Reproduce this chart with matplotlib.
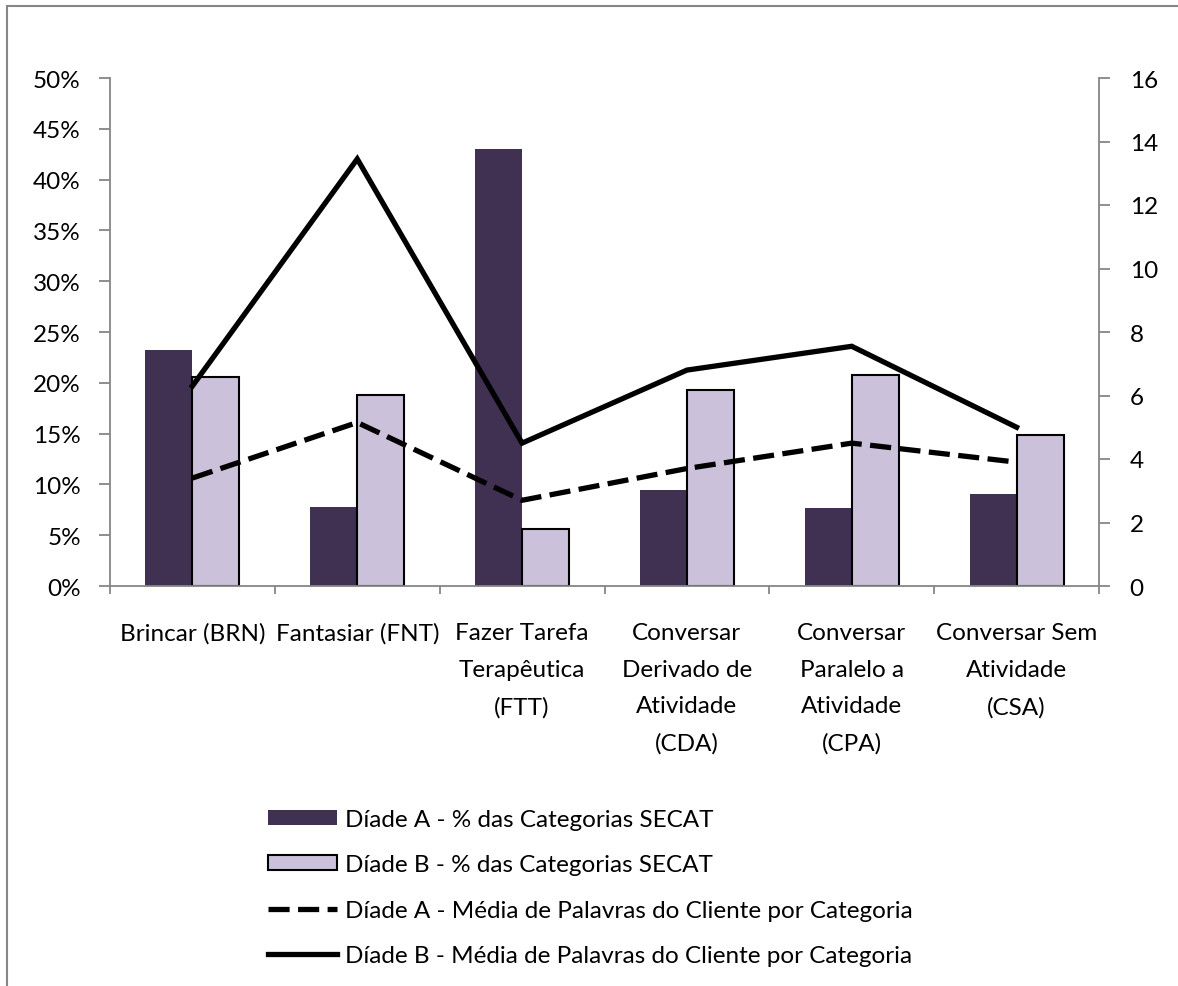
import matplotlib
matplotlib.use("Agg")
import matplotlib.pyplot as plt
from matplotlib.patches import Rectangle
from matplotlib.ticker import FuncFormatter
import numpy as np

plt.rcParams['font.family'] = ['Lato', 'DejaVu Sans']

categorias = ['Brincar (BRN)', 'Fantasiar (FNT)', 'Fazer Tarefa\nTerapêutica\n(FTT)',
              'Conversar\nDerivado de\nAtividade\n(CDA)', 'Conversar\nParalelo a\nAtividade\n(CPA)',
              'Conversar Sem\nAtividade\n(CSA)']
pct_a = [23.2, 7.8, 43.0, 9.4, 7.7, 9.1]
pct_b = [20.6, 18.8, 5.6, 19.3, 20.8, 14.9]
palavras_a = [3.4, 5.15, 2.7, 3.7, 4.5, 3.9]
palavras_b = [6.3, 13.45, 4.5, 6.8, 7.55, 5.0]

rotulos = ['Díade A - % das Categorias SECAT',
           'Díade B - % das Categorias SECAT',
           'Díade A - Média de Palavras do Cliente por Categoria',
           'Díade B - Média de Palavras do Cliente por Categoria']

cinza = '#868686'
fs = 17.5

fig = plt.figure(figsize=(11.78, 9.87), dpi=100)
ax = fig.add_axes([110 / 1178, 1 - 587 / 987, (1099 - 110) / 1178, (587 - 79) / 987])
ax2 = ax.twinx()

x = np.arange(len(categorias))
w = 0.285
b1 = ax.bar(x - w / 2, pct_a, w, color='#403152', edgecolor='none', label=rotulos[0])
b2 = ax.bar(x + w / 2, pct_b, w, color='#CCC1DA', edgecolor='black', linewidth=1.5, label=rotulos[1])

l1, = ax2.plot(x, palavras_a, color='black', lw=3.8, ls=(0, (4, 1.6)), label=rotulos[2])
l2, = ax2.plot(x, palavras_b, color='black', lw=3.8, solid_joinstyle='miter', label=rotulos[3])

ax.set_xlim(-0.5, len(categorias) - 0.5)
ax.set_ylim(0, 50)
ax2.set_ylim(0, 16)
ax.set_yticks(np.arange(0, 51, 5))
ax.yaxis.set_major_formatter(FuncFormatter(lambda v, p: '%d%%' % v))
ax2.set_yticks(np.arange(0, 17, 2))

# ticks do eixo x nas divisas entre categorias, rótulos no centro
ax.set_xticks(np.arange(-0.5, len(categorias), 1.0))
ax.set_xticklabels([])
ax.set_xticks(x, minor=True)
ax.set_xticklabels(categorias, minor=True, fontsize=fs, linespacing=1.92)
ax.tick_params(axis='x', which='minor', length=0, pad=26)
ax.tick_params(axis='x', which='major', length=6, color=cinza, width=1.3, direction='out')
ax.tick_params(axis='y', length=8, color=cinza, width=1.3, pad=13, labelsize=fs)
ax2.tick_params(axis='y', length=8, color=cinza, width=1.3, pad=14, labelsize=fs)

for a in (ax, ax2):
    for s in a.spines.values():
        s.set_visible(False)
ax.spines['left'].set_visible(True)
ax.spines['bottom'].set_visible(True)
ax2.spines['right'].set_visible(True)
for s in (ax.spines['left'], ax.spines['bottom'], ax2.spines['right']):
    s.set_color(cinza)
    s.set_linewidth(1.3)

fig.legend(handles=[b1, b2, l1, l2], loc='upper left',
           bbox_to_anchor=(268 / 1178, 1 - 810 / 987), frameon=False,
           fontsize=fs, handlelength=2.85, handleheight=0.55, handletextpad=0.3,
           labelspacing=1.0, borderpad=0, borderaxespad=0)

# moldura externa do gráfico
fig.patches.append(Rectangle((7 / 1178, -0.1), 1.2, 1 - 7 / 987 + 0.1,
                             transform=fig.transFigure, fill=False,
                             edgecolor=cinza, linewidth=1.5))

fig.savefig('out.png', dpi=100)
